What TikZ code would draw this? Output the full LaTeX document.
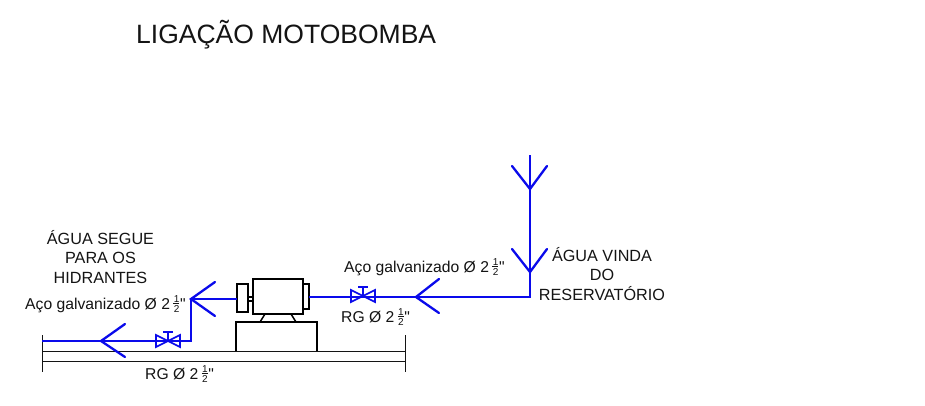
\documentclass[tikz,border=0pt]{standalone}
\usepackage{fontspec}
\setmainfont{Liberation Sans}
\newfontfamily\plainqfont{Liberation Sans}
\definecolor{pipe}{RGB}{10,10,235}
\definecolor{ink}{RGB}{20,20,20}
\newcommand{\halfx}{\kern-1.5pt\makebox[7pt][c]{\rlap{\kern0.5pt\vrule height 5.6pt depth -4.6pt width 6pt}\rlap{\kern0.9pt\raisebox{6.6pt}{\fontsize{10}{10}\selectfont 1}}\rlap{\kern0.9pt\raisebox{-3.7pt}{\fontsize{10}{10}\selectfont 2}}\hspace{7pt}}\kern0.2pt{\plainqfont"}}
\tikzset{
 pipeline/.style={draw=pipe,line width=2.3pt,line join=miter},
 wing/.style={draw=pipe,line width=2.3pt,line cap=round},
 valvebody/.style={draw=pipe,line width=1.7pt},
 mech/.style={draw=black,line width=1.5pt},
 ground/.style={draw=ink,line width=0.9pt},
 label/.style={inner sep=0,align=center,text=ink,font=\fontsize{15.7}{20}\selectfont},
 block/.style={label,font=\fontsize{16.2}{19.5}\selectfont},
}
\newcommand{\valvemark}[2]{%
 \draw[valvebody] (#1-12,#2-6)--(#1+12,#2+6)--(#1+12,#2-6)--(#1-12,#2+6)--cycle;
 \draw[valvebody] (#1,#2)--(#1,#2-9);
 \draw[valvebody] (#1-5,#2-9)--(#1+5,#2-9);}
\begin{document}
\begin{tikzpicture}[x=1pt,y=-1pt]
\useasboundingbox (0,0) rectangle (925,405);
\fill[white] (0,0) rectangle (925,405);
\node[inner sep=0,anchor=base west,text=ink,font=\fontsize{26.5}{30}\selectfont] (title) at (136,43) {LIGAÇÃO MOTOBOMBA};
% ground
\coordinate (gl1) at (42,351); \coordinate (gr1) at (405,351);
\coordinate (gl2) at (42,361); \coordinate (gr2) at (405,361);
\draw[ground] (gl1)--(gr1); \draw[ground] (gl2)--(gr2);
\draw[ground] (42,335)--(42,372); \draw[ground] (405,335)--(405,372);
% motor
\draw[mech] (236,351)--(236,322)--(317,322)--(317,351);
\draw[mech] (237,284) rectangle (248,312);
\draw[mech] (248,297) rectangle (253,301);
\draw[mech] (253,279) rectangle (303,314);
\draw[mech] (303,284) rectangle (309,309);
\draw[mech] (265,314)--(260,322);
\draw[mech] (291,314)--(296,322);
% pipes
\coordinate (pA) at (42,341);
\coordinate (pB) at (191,341);
\coordinate (pC) at (191,299);
\coordinate (pD) at (237,299);
\coordinate (pE) at (309,297);
\coordinate (pF) at (530,297);
\coordinate (pG) at (530,155);
\draw[pipeline] (pA)--(pB)--(pC)--(pD);
\draw[pipeline] (pE)--(pF)--(pG);
% arrows
\draw[wing] (125,324)--(101,341)--(125,357);
\draw[wing] (215,282)--(191,299)--(215,316);
\draw[wing] (439,279)--(416,297)--(439,313);
\draw[wing] (512,249)--(530,272)--(547,249);
\draw[wing] (512,166)--(530,189)--(547,166);
% valves
\valvemark{168}{341}
\valvemark{363}{296}
% labels
\node[block] (t1) at (100.5,257) {ÁGUA SEGUE\\PARA OS\\HIDRANTES};
\node[label,anchor=base west] (t2) at (25,309) {Aço galvanizado Ø 2 \halfx};
\node[label,anchor=base west] (t3) at (145,379) {RG Ø 2 \halfx};
\node[label,anchor=base west] (t4) at (344,272) {Aço galvanizado Ø 2 \halfx};
\node[label,anchor=base west] (t5) at (341,322) {RG Ø 2 \halfx};
\node[block] (t6) at (602,274) {ÁGUA VINDA\\DO\\RESERVATÓRIO};
\end{tikzpicture}
\end{document}
